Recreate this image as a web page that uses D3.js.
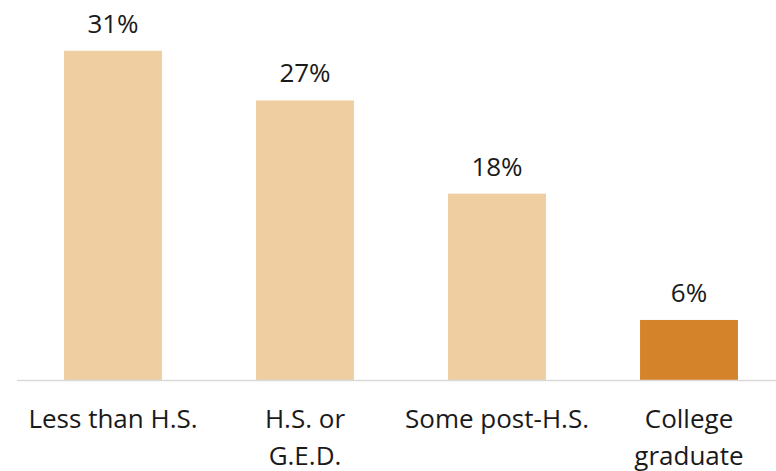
<!DOCTYPE html>
<html>
<head>
<meta charset="utf-8">
<script src="https://cdn.jsdelivr.net/npm/d3@7"></script>
<style>
  html, body { margin: 0; padding: 0; background: #fff; }
  svg text { font-family: "Open Sans", sans-serif; fill: #1a1a1a; font-weight: 400; }
</style>
</head>
<body>
<div id="chart"></div>
<script>
// data
var categories = [["Less than H.S."], ["H.S. or", "G.E.D."], ["Some post-H.S."], ["College", "graduate"]];
var values = [31.8, 27.0, 18.0, 5.8];
var labels = ["31%", "27%", "18%", "6%"];
var highlight = [false, false, false, true];

var width = 776, height = 471;
var baseY = 380;

var svg = d3.select("#chart")
    .append("svg")
    .attr("width", width)
    .attr("height", height);

var keys = d3.range(values.length);

var x = d3.scaleBand()
    .domain(keys)
    .range([17, 785])
    .paddingInner(0.49)
    .paddingOuter(0.245);

var y = d3.scaleLinear()
    .domain([0, 36.7])
    .range([baseY, 0]);

svg.selectAll("rect.bar")
    .data(keys)
    .enter()
    .append("rect")
    .attr("class", "bar")
    .attr("x", function (i) { return x(i); })
    .attr("y", function (i) { return y(values[i]); })
    .attr("width", x.bandwidth())
    .attr("height", function (i) { return y(0) - y(values[i]); })
    .attr("fill", function (i) { return highlight[i] ? "#d4832a" : "#efcea1"; });

// baseline
svg.append("line")
    .attr("x1", 17)
    .attr("x2", width)
    .attr("y1", y(0) + 0.5)
    .attr("y2", y(0) + 0.5)
    .attr("stroke", "#d9d9d9")
    .attr("stroke-width", 1.5);

// value labels
svg.selectAll("text.val")
    .data(keys)
    .enter()
    .append("text")
    .attr("class", "val")
    .attr("x", function (i) { return x(i) + x.bandwidth() / 2; })
    .attr("y", function (i) { return y(values[i]) - 18; })
    .attr("text-anchor", "middle")
    .style("font-size", "26px")
    .text(function (i) { return labels[i]; });

// category labels
var cat = svg.selectAll("text.cat")
    .data(keys)
    .enter()
    .append("text")
    .attr("class", "cat")
    .attr("text-anchor", "middle")
    .style("font-size", "26px");

cat.selectAll("tspan")
    .data(function (i) { return categories[i].map(function (t) { return { i: i, t: t }; }); })
    .enter()
    .append("tspan")
    .attr("x", function (d) { return x(d.i) + x.bandwidth() / 2; })
    .attr("y", function (d, j) { return 428 + j * 37; })
    .text(function (d) { return d.t; });
</script>
</body>
</html>
